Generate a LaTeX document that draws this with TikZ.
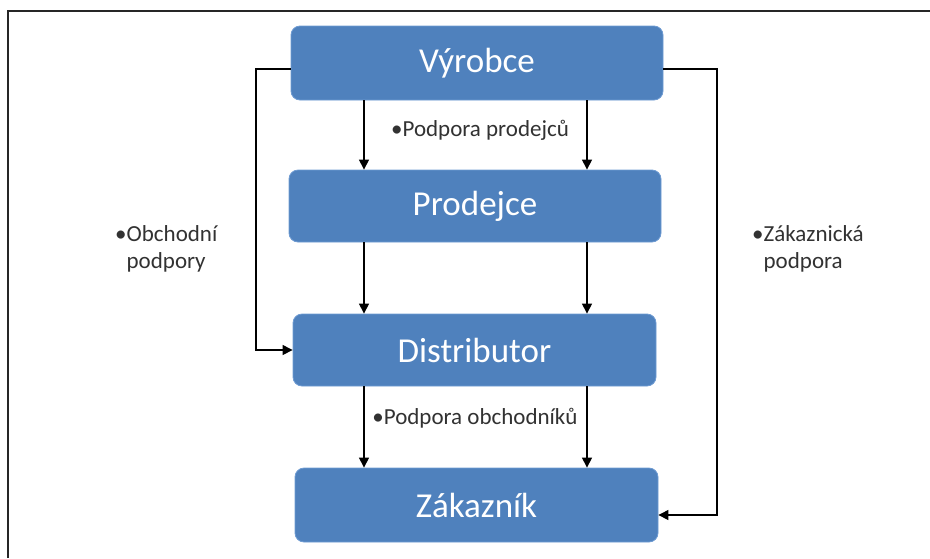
\documentclass[tikz,border=0pt]{standalone}
\usepackage{fontspec}
\setmainfont{Carlito}
\usetikzlibrary{arrows.meta}
\definecolor{boxblue}{RGB}{79,129,189}
\definecolor{boxedge}{RGB}{110,155,210}
\definecolor{labtext}{RGB}{50,50,50}
\begin{document}
\begin{tikzpicture}[x=1pt,y=-1pt,
  box/.style={rectangle,rounded corners=9pt,fill=boxblue,draw=boxedge,line width=0.8pt,
    text=white,font=\fontsize{35}{40}\selectfont,inner sep=0pt},
  lab/.style={font=\fontsize{23}{27}\selectfont,text=labtext,inner sep=0pt},
  arr/.style={draw=black,line width=1.1pt,-{Triangle[length=10pt,width=10pt]}}]
\useasboundingbox (0,0) rectangle (930,558);
% frame
\draw[line width=1.6pt,black!85] (8,558) -- (8,11) -- (930,11);
% boxes
\node[box,minimum width=372pt,minimum height=74pt] (v) at (477,63) {Výrobce};
\node[box,minimum width=372pt,minimum height=72pt] (p) at (475,206) {Prodejce};
\node[box,minimum width=363pt,minimum height=72pt] (d) at (474.5,350) {Distributor};
\node[box,minimum width=363pt,minimum height=74pt] (z) at (476.5,505) {Zákazník};
% guide coordinates
\coordinate (xl) at (364,0);
\coordinate (xr) at (587,0);
\coordinate (lx) at (256,0);
\coordinate (rx) at (717,0);
% vertical arrows
\draw[arr] (v.south -| xl) -- (p.north -| xl);
\draw[arr] (v.south -| xr) -- (p.north -| xr);
\draw[arr] (p.south -| xl) -- (d.north -| xl);
\draw[arr] (p.south -| xr) -- (d.north -| xr);
\draw[arr] (d.south -| xl) -- (z.north -| xl);
\draw[arr] (d.south -| xr) -- (z.north -| xr);
% side connectors
\draw[arr] ([yshift=-6pt]v.west) -| (lx |- d.west) -- (d.west);
\draw[arr] ([yshift=-6pt]v.east) -| (rx |- 0,515) -- ([yshift=-10pt]z.east);
% labels
\node[lab] (l1) at (480,130) {•Podpora prodejců};
\node[lab] (l2) at (475,418) {•Podpora obchodníků};
\node[lab,anchor=west,align=left] (l3) at (115,249) {•Obchodní\\\hphantom{•}podpory};
\node[lab,anchor=west,align=left] (l4) at (752,249) {•Zákaznická\\\hphantom{•}podpora};
\end{tikzpicture}
\end{document}
